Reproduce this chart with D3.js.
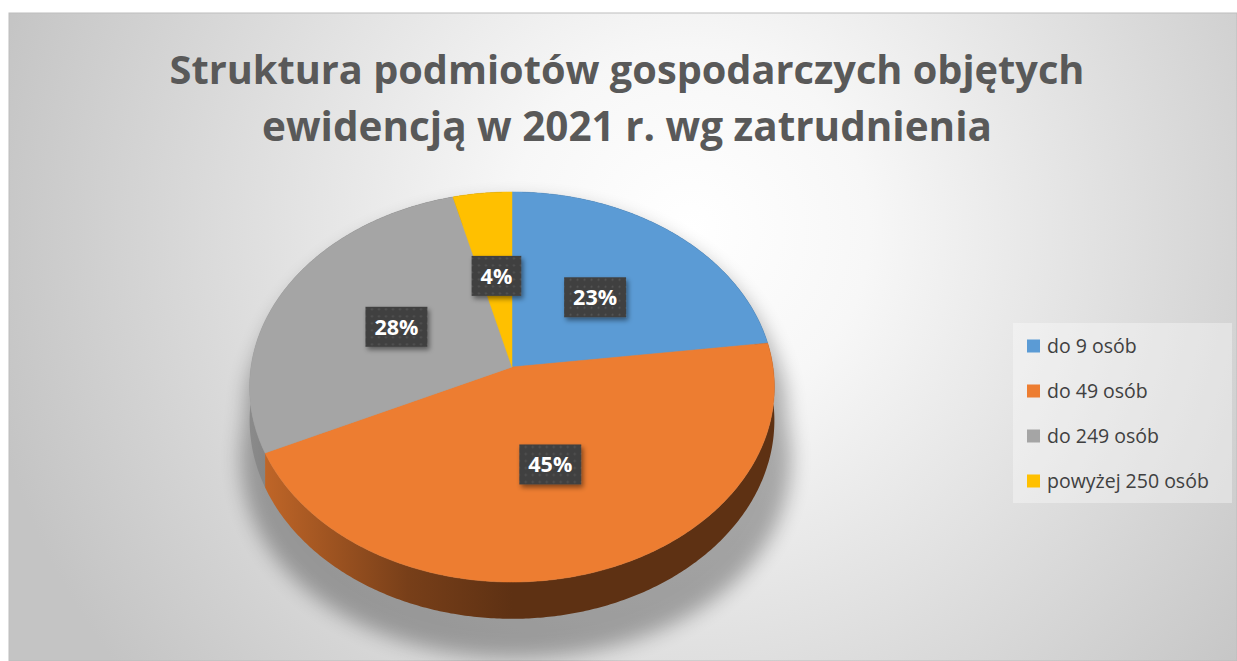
<!DOCTYPE html>
<html>
<head>
<meta charset="utf-8">
<script src="https://cdn.jsdelivr.net/npm/d3@7"></script>
<style>
  html, body { margin: 0; padding: 0; background: #fff; }
  svg { display: block; }
</style>
</head>
<body>
<svg id="chart"></svg>
<script>
const categories = ["do 9 osób", "do 49 osób", "do 249 osób", "powyżej 250 osób"];
const shares = [23, 45, 28, 4];
const colors = ["#5b9bd5", "#ed7d31", "#a5a5a5", "#ffc000"];
const titleLines = ["Struktura podmiotów gospodarczych objętych", "ewidencją w 2021 r. wg zatrudnienia"];

const size = { w: 1237, h: 661 };
const svg = d3.select("svg#chart").attr("width", size.w).attr("height", size.h);
const defs = svg.append("defs");

// background (chart area with radial gradient)
const bg = defs.append("radialGradient").attr("id", "bgGrad")
  .attr("gradientUnits", "userSpaceOnUse")
  .attr("cx", 690).attr("cy", 230).attr("r", 720);
bg.append("stop").attr("offset", "0%").attr("stop-color", "#ffffff");
bg.append("stop").attr("offset", "25%").attr("stop-color", "#f7f7f7");
bg.append("stop").attr("offset", "100%").attr("stop-color", "#c4c4c4");

svg.append("rect")
  .attr("x", 9).attr("y", 13).attr("width", size.w - 9).attr("height", size.h - 13)
  .attr("fill", "url(#bgGrad)")
  .attr("stroke", "#bdbdbd").attr("stroke-width", 1);

// title
const title = svg.append("g").attr("class", "title");
const titleW = [915, 730];
titleLines.forEach((t, i) => {
  const txt = title.append("text")
    .text(t)
    .attr("x", 627).attr("y", 84 + i * 57)
    .attr("text-anchor", "middle")
    .attr("font-family", "'Open Sans', sans-serif")
    .attr("font-weight", "bold")
    .attr("font-size", 40)
    .attr("fill", "#595959");
  const len = txt.node().getComputedTextLength();
  txt.attr("font-size", 40 * titleW[i] / len);
});

// 3d pie geometry
const cx = 512, cy = 367, rx = 261, ry = 193, persp = 0.1025, depth = 33;
const xScale = d3.scaleLinear().domain([-1, 1]).range([cx - rx, cx + rx]);
const yScale = d3.scaleLinear().domain([-1, 1]).range([cy + ry, cy - ry]);

function proj(theta, f, h) {
  const X = f * Math.sin(theta), Z = f * Math.cos(theta);
  const s = 1 / (1 + persp * Z);
  return [cx + (xScale(X) - cx) * s, cy + (yScale(Z) - cy + h) * s];
}

function arcPoints(a0, a1, f, h) {
  const n = Math.max(4, Math.ceil((a1 - a0) / 0.01));
  return d3.range(n + 1).map(i => proj(a0 + (a1 - a0) * i / n, f, h));
}

const pie = d3.pie().sort(null).value(d => d)(shares);
const line = d3.line();

// shadow under the pie
const shadow = defs.append("filter").attr("id", "pieShadow")
  .attr("x", "-20%").attr("y", "-20%").attr("width", "140%").attr("height", "140%");
shadow.append("feGaussianBlur").attr("stdDeviation", 10);

const outline = arcPoints(Math.PI / 2, Math.PI * 1.5, 1, depth)
  .concat(arcPoints(Math.PI * 1.5, Math.PI * 2.5, 1, 0));
svg.append("path")
  .attr("d", line(outline.map(p => [cx + (p[0] - cx) * (1.02 + Math.max(0, p[1] - 330) * 0.0003) + 4, p[1] + (p[1] - 200) * 0.07 + 10])) + "Z")
  .attr("fill", "#000")
  .attr("opacity", 0.3)
  .attr("filter", "url(#pieShadow)");

// side walls
const walls = svg.append("g").attr("class", "walls");
pie.forEach((d, i) => {
  const c = d3.color(colors[i]);
  const grad = defs.append("linearGradient").attr("id", `wall${i}`)
    .attr("gradientUnits", "userSpaceOnUse")
    .attr("x1", cx - rx).attr("x2", cx + rx).attr("y1", 0).attr("y2", 0);
  [[0, 0.5], [0.3, 1.9], [0.5, 2.6], [1, 2.6]].forEach(([o, k]) => {
    grad.append("stop").attr("offset", o).attr("stop-color", c.darker(k).formatHex());
  });
  const pts = arcPoints(d.startAngle, d.endAngle, 1, 0)
    .concat(arcPoints(d.startAngle, d.endAngle, 1, depth).reverse());
  walls.append("path")
    .attr("d", line(pts) + "Z")
    .attr("fill", `url(#wall${i})`);
});

// top faces
const tops = svg.append("g").attr("class", "tops");
pie.forEach((d, i) => {
  const pts = [[cx, cy]].concat(arcPoints(d.startAngle, d.endAngle, 1, 0));
  tops.append("path")
    .attr("d", line(pts) + "Z")
    .attr("fill", colors[i])
    .attr("stroke", colors[i])
    .attr("stroke-width", 0.5);
});

// data labels
const dots = defs.append("pattern").attr("id", "dots")
  .attr("patternUnits", "userSpaceOnUse").attr("width", 7).attr("height", 7);
dots.append("rect").attr("width", 7).attr("height", 7).attr("fill", "#404040");
dots.append("circle").attr("cx", 3.5).attr("cy", 3.5).attr("r", 1).attr("fill", "#575757");

const lblShadow = defs.append("filter").attr("id", "lblShadow")
  .attr("x", "-30%").attr("y", "-30%").attr("width", "160%").attr("height", "170%");
lblShadow.append("feDropShadow").attr("dx", 2).attr("dy", 3).attr("stdDeviation", 2.5)
  .attr("flood-color", "#000").attr("flood-opacity", 0.45);

const labels = svg.append("g").attr("class", "labels");
pie.forEach((d, i) => {
  const mid = (d.startAngle + d.endAngle) / 2;
  const [lx, ly] = proj(mid, 0.5, 0);
  const g = labels.append("g").attr("transform", `translate(${lx},${ly})`);
  const box = g.append("rect").attr("fill", "url(#dots)").attr("filter", "url(#lblShadow)");
  const t = g.append("text")
    .text(`${d.data}%`)
    .attr("text-anchor", "middle")
    .attr("dy", "0.36em")
    .attr("font-family", "'Open Sans', sans-serif")
    .attr("font-weight", "bold")
    .attr("font-size", 21.5)
    .attr("fill", "#ffffff");
  const w = t.node().getComputedTextLength() + 18;
  box.attr("x", -w / 2).attr("y", -20).attr("width", w).attr("height", 40);
});

// legend
const legend = svg.append("g").attr("class", "legend");
legend.append("rect")
  .attr("x", 1013).attr("y", 323).attr("width", 219).attr("height", 180)
  .attr("fill", "#ffffff").attr("opacity", 0.35);
const legendY = d3.scalePoint().domain(categories).range([346, 481]);
categories.forEach((c, i) => {
  const y = legendY(c);
  legend.append("rect")
    .attr("x", 1027).attr("y", y - 6.5).attr("width", 13).attr("height", 13)
    .attr("fill", colors[i]);
  legend.append("text")
    .text(c)
    .attr("x", 1047).attr("y", y).attr("dy", "0.35em")
    .attr("font-family", "'Open Sans', sans-serif")
    .attr("font-size", 19.5)
    .attr("fill", "#404040");
});
</script>
</body>
</html>
